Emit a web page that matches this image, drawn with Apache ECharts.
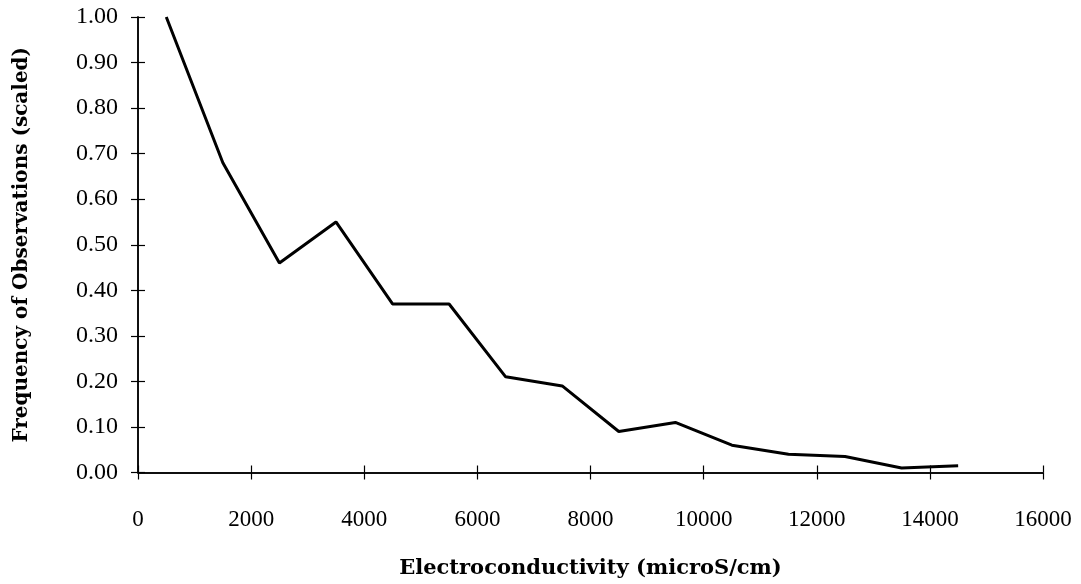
<!DOCTYPE html>
<html>
<head>
<meta charset="utf-8">
<script src="https://cdn.jsdelivr.net/npm/echarts@6/dist/echarts.min.js"></script>
<style>html,body{margin:0;padding:0;background:#fff}#c{width:1081px;height:584px}</style>
</head>
<body>
<div id="c"></div>
<script>
var conductivity = [500, 1500, 2500, 3500, 4500, 5500, 6500, 7500, 8500, 9500, 10500, 11500, 12500, 13500, 14500];
var frequency = [1.00, 0.68, 0.46, 0.55, 0.37, 0.37, 0.21, 0.19, 0.09, 0.11, 0.06, 0.04, 0.035, 0.01, 0.015];
var xTitle = 'Electroconductivity (microS/cm)';
var yTitle = 'Frequency of Observations (scaled)';

var chart = echarts.init(document.getElementById('c'), null, {renderer: 'canvas'});
var fontFam = '"Liberation Serif", "Times New Roman", serif';
var titleFam = '"DejaVu Serif", serif';
var tickStyle = {color: '#000', width: 1.2};
var lineStyleAxis = {color: '#000', width: 1.5};
var points = conductivity.map(function (x, i) { return [x, frequency[i]]; });
chart.setOption({
  animation: false,
  grid: {left: 138, right: 38, top: 17, bottom: 111},
  xAxis: [
    {
      type: 'value', min: 0, max: 16000, interval: 2000, position: 'bottom',
      splitLine: {show: false},
      axisLine: {show: true, onZero: false, lineStyle: lineStyleAxis},
      axisTick: {show: true, inside: false, length: 7, lineStyle: tickStyle},
      axisLabel: {margin: 36, color: '#000', fontFamily: fontFam, fontSize: 23,
        formatter: function (v) { return String(v); }},
      name: xTitle, nameLocation: 'middle', nameGap: 96,
      nameTextStyle: {color: '#000', fontFamily: titleFam, fontWeight: 'bold', fontSize: 21, verticalAlign: 'middle'}
    },
    {
      type: 'value', min: 0, max: 16000, interval: 2000, position: 'bottom',
      splitLine: {show: false},
      axisLine: {show: true, onZero: false, lineStyle: lineStyleAxis},
      axisTick: {show: true, inside: true, length: 7, lineStyle: tickStyle},
      axisLabel: {show: false}
    }
  ],
  yAxis: [
    {
      type: 'value', min: 0, max: 1, interval: 0.1, position: 'left',
      splitLine: {show: false},
      axisLine: {show: true, onZero: false, lineStyle: lineStyleAxis},
      axisTick: {show: true, inside: false, length: 7, lineStyle: tickStyle},
      axisLabel: {margin: 20, color: '#000', fontFamily: fontFam, fontSize: 24,
        formatter: function (v) { return v.toFixed(2); }},
      name: yTitle, nameLocation: 'middle', nameGap: 116,
      nameTextStyle: {color: '#000', fontFamily: titleFam, fontWeight: 'bold', fontSize: 20, verticalAlign: 'middle'}
    },
    {
      type: 'value', min: 0, max: 1, interval: 0.1, position: 'left',
      splitLine: {show: false},
      axisLine: {show: true, onZero: false, lineStyle: lineStyleAxis},
      axisTick: {show: true, inside: true, length: 7, lineStyle: tickStyle},
      axisLabel: {show: false}
    }
  ],
  series: [{
    type: 'line',
    xAxisIndex: 0, yAxisIndex: 0,
    data: points,
    showSymbol: false,
    lineStyle: {color: '#000', width: 3},
    z: 3
  }, {
    type: 'line',
    xAxisIndex: 1, yAxisIndex: 1,
    data: points,
    showSymbol: false,
    silent: true,
    lineStyle: {opacity: 0},
    z: 1
  }]
});
</script>
</body>
</html>
